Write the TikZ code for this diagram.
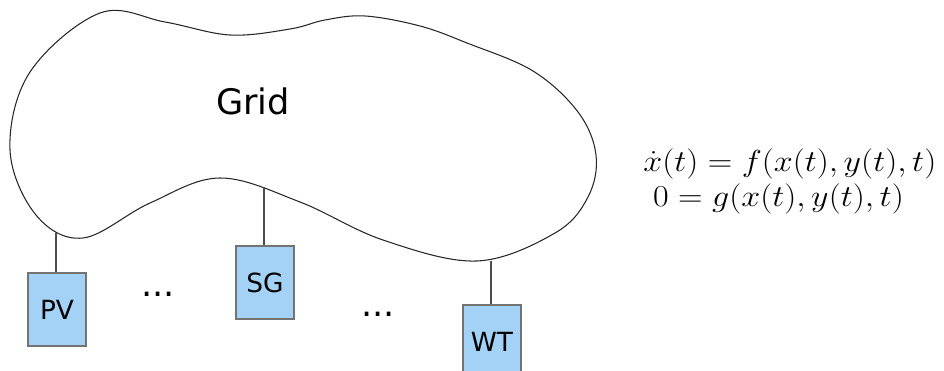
\documentclass[tikz,border=0pt]{standalone}
\usepackage{fontspec}
\usepackage{graphicx}
\setmainfont{DejaVu Sans}
\begin{document}
\begin{tikzpicture}[x=0.02cm,y=-0.02cm,
  cloudline/.style={draw=black!85, line width=0.6pt},
  unitbox/.style={draw=black!55, fill=boxblue, line width=0.7pt, minimum width=1.16cm, minimum height=1.46cm, inner sep=0pt, font=\fontsize{15}{18}\selectfont},
  tie/.style={draw=black!70, line width=0.6pt},
  dotsstyle/.style={font=\fontsize{20}{24}\selectfont, inner sep=0pt},
  eqstyle/.style={anchor=west, inner sep=0pt, align=left, font=\fontsize{19}{20}\selectfont}]
\definecolor{boxblue}{RGB}{164,210,246}
\useasboundingbox (0,0) rectangle (944,371);
% cloud
\draw[cloudline] plot[smooth cycle, tension=0.6] coordinates {
 (10,150) (30,72) (100,13) (165,22) (230,35) (290,29) (325,20) (365,16) (420,26)
 (467,43) (533,71) (578,112) (596,155) (588,197) (555,233) (477,261) (383,240)
 (300,202) (220,178) (150,203) (83,238) (36,215)};
\node[font=\fontsize{20}{24}\selectfont] (grid) at (253,101) {Grid};
% attachment points on the cloud
\coordinate (cpv) at (56,233);
\coordinate (csg) at (264,187);
\coordinate (cwt) at (491,261);
% units
\node[unitbox] (pv) at (57,309.5) {PV};
\node[unitbox] (sg) at (265,282.5) {SG};
\node[unitbox] (wt) at (492,341.5) {WT};
\draw[tie] (cpv) -- (cpv |- pv.north);
\draw[tie] (csg) -- (csg |- sg.north);
\draw[tie] (cwt) -- (cwt |- wt.north);
\node[dotsstyle] (d1) at (158,294) {...};
\node[dotsstyle] (d2) at (378,314) {...};
% equations
\node[eqstyle] (eq) at (643,182) {\scalebox{1.12}[1]{\begin{tabular}{@{}l@{}}$\dot{x}(t) = f(x(t), y(t), t)$\\[0pt]\hspace{5pt}$0 = g(x(t), y(t), t)$\end{tabular}}};
\end{tikzpicture}
\end{document}
